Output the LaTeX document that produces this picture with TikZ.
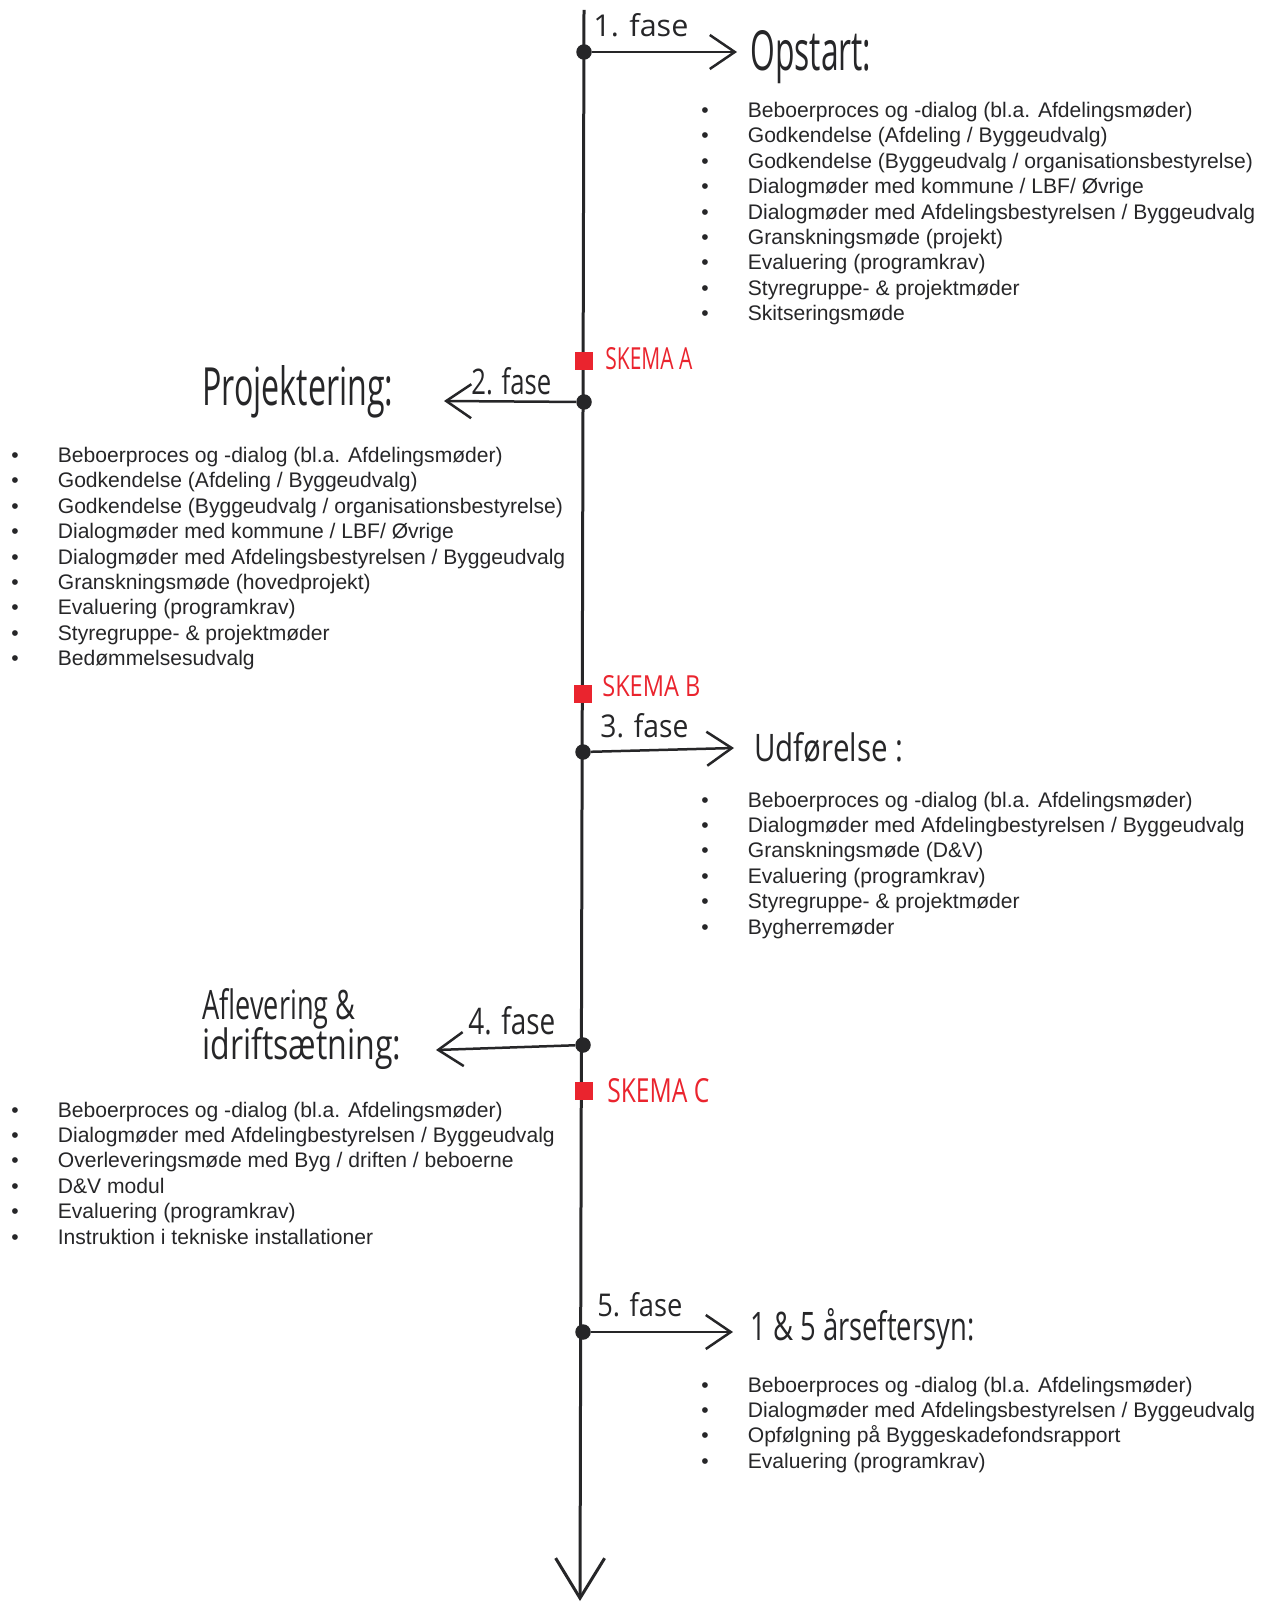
\documentclass[tikz,border=0pt]{standalone}
\usepackage{fontspec}
\setmainfont{Liberation Sans}
\newfontfamily\handfont{Open Sans}
\usetikzlibrary{arrows.meta}
\definecolor{ink}{RGB}{38,38,40}
\definecolor{skemared}{RGB}{234,36,46}
\newdimen\pxu \pxu=0.02cm
% handwritten words: width, height above baseline, text
\newcommand\hand[3]{\resizebox{#1\pxu}{#2\pxu}{\handfont #3}}
% bullet list: name, x of bullet, y of first baseline, items
\newcommand\punkter[4]{%
  \foreach \txt [count=\i from 0] in {#4} {
    \node[bul] (#1b\i) at (#2,#3+\i*25.4) {\textbullet};
    \node[item] (#1t\i) at (#2+42.5,#3+\i*25.4) {\txt};
  }}

\begin{document}
\begin{tikzpicture}[x=0.02cm,y=-0.02cm,
    timeline/.style={ink,line width=0.06cm,-{Straight Barb[length=0.8cm,width=0.98cm]}},
    fasearrow/.style={ink,line width=0.05cm,-{Straight Barb[length=0.5cm,width=0.68cm]}},
    dot/.style={circle,fill=ink,inner sep=0,minimum size=0.31cm},
    skema/.style={rectangle,fill=skemared,inner sep=0,minimum size=0.35cm},
    hand/.style={anchor=base west,inner sep=0,text=ink},
    red/.style={hand,text=skemared},
    bul/.style={anchor=base,inner sep=0,text=ink,font=\fontsize{12}{14}\selectfont},
    item/.style={anchor=base west,inner sep=0,text=ink,font=\fontsize{12}{14}\selectfont}]
    \useasboundingbox (0,0) rectangle (1270,1604);

    % the time line
    \coordinate (top) at (584,10);
    \coordinate (bund) at (580,1601);
    \draw[timeline] (top) -- (bund);

    % 1. fase
    \node[dot] (f1) at (584,52) {};
    \coordinate (e1) at (737,52);
    \draw[fasearrow] (f1) -- (e1);
    \node[hand] (n1) at (593,37) {\hand{95}{23}{1. fase}};
    \node[hand] (h1) at (750,71) {\hand{121}{40}{Opstart:}};
    \punkter{a}{705}{117.5}{Beboerproces og -dialog (bl.a. Afdelingsmøder),
      Godkendelse (Afdeling / Byggeudvalg),
      Godkendelse (Byggeudvalg / organisationsbestyrelse),
      Dialogmøder med kommune / LBF/ Øvrige,
      Dialogmøder med Afdelingsbestyrelsen / Byggeudvalg,
      Granskningsmøde (projekt),
      Evaluering (programkrav),
      Styregruppe- \& projektmøder,
      Skitseringsmøde}

    % 2. fase
    \node[skema] (sa) at (584,361) {};
    \node[red] (ska) at (605,370) {\hand{87}{22}{SKEMA A}};
    \node[dot] (f2) at (584,402) {};
    \coordinate (e2) at (444,401);
    \draw[fasearrow] (f2) -- (e2);
    \node[hand] (n2) at (471,395) {\hand{80}{27}{2. fase}};
    \node[hand] (h2) at (202,406) {\hand{191}{40}{Projektering:}};
    \punkter{b}{15}{462.5}{Beboerproces og -dialog (bl.a. Afdelingsmøder),
      Godkendelse (Afdeling / Byggeudvalg),
      Godkendelse (Byggeudvalg / organisationsbestyrelse),
      Dialogmøder med kommune / LBF/ Øvrige,
      Dialogmøder med Afdelingsbestyrelsen / Byggeudvalg,
      Granskningsmøde (hovedprojekt),
      Evaluering (programkrav),
      Styregruppe- \& projektmøder,
      Bedømmelsesudvalg}

    % 3. fase
    \node[skema] (sb) at (583,694) {};
    \node[red] (skb) at (602,696) {\hand{98}{21}{SKEMA B}};
    \node[dot] (f3) at (583,752) {};
    \coordinate (e3) at (734,748);
    \draw[fasearrow] (f3) -- (e3);
    \node[hand] (n3) at (600,737) {\hand{88}{24}{3. fase}};
    \node[hand] (h3) at (754,761) {\hand{149}{29}{Udførelse :}};
    \punkter{c}{705}{807}{Beboerproces og -dialog (bl.a. Afdelingsmøder),
      Dialogmøder med Afdelingbestyrelsen / Byggeudvalg,
      Granskningsmøde (D\&V),
      Evaluering (programkrav),
      Styregruppe- \& projektmøder,
      Bygherremøder}

    % 4. fase
    \node[dot] (f4) at (583,1045) {};
    \coordinate (e4) at (436,1050);
    \draw[fasearrow] (f4) -- (e4);
    \node[hand] (n4) at (468,1034) {\hand{87}{28}{4. fase}};
    \node[hand] (h4a) at (202,1019) {\hand{153}{31}{Aflevering \&}};
    \node[hand] (h4b) at (202,1059) {\hand{199}{32}{idriftsætning:}};
    \node[skema] (sc) at (584,1091) {};
    \node[red] (skc) at (607,1102) {\hand{102}{24}{SKEMA C}};
    \punkter{d}{15}{1117}{Beboerproces og -dialog (bl.a. Afdelingsmøder),
      Dialogmøder med Afdelingbestyrelsen / Byggeudvalg,
      Overleveringsmøde med Byg / driften / beboerne,
      D\&V modul,
      Evaluering (programkrav),
      Instruktion i tekniske installationer}

    % 5. fase
    \node[dot] (f5) at (583,1332) {};
    \coordinate (e5) at (733,1332);
    \draw[fasearrow] (f5) -- (e5);
    \node[hand] (n5) at (597,1316) {\hand{85}{24}{5. fase}};
    \node[hand] (h5) at (750,1340) {\hand{224}{32}{1 \& 5 årseftersyn:}};
    \punkter{e}{705}{1392}{Beboerproces og -dialog (bl.a. Afdelingsmøder),
      Dialogmøder med Afdelingsbestyrelsen / Byggeudvalg,
      Opfølgning på Byggeskadefondsrapport,
      Evaluering (programkrav)}
\end{tikzpicture}
\end{document}
